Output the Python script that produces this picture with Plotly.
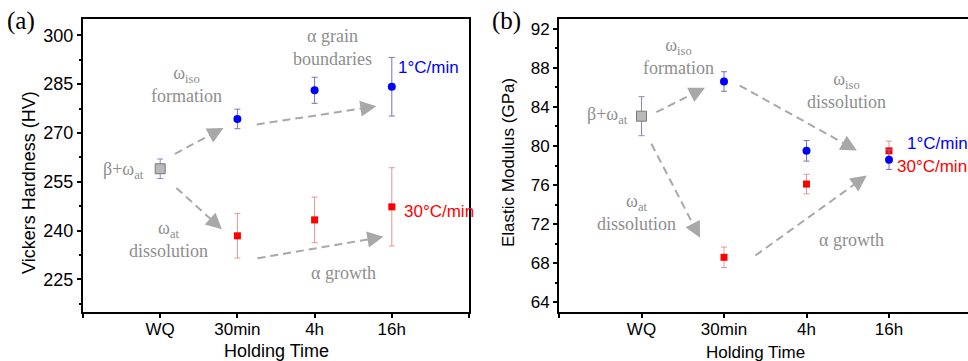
import plotly.graph_objects as go

# ---------------- data ----------------
categories = ["WQ", "30min", "4h", "16h"]
cat_pos = [1, 2, 3, 4]

hv_wq = [259.0]
hv_wq_err = [3.0]
hv_slow = [274.3, 283.1, 284.2]      # 1°C/min
hv_slow_err = [3.0, 4.0, 9.0]
hv_fast = [238.4, 243.3, 247.3]      # 30°C/min
hv_fast_err = [6.8, 7.0, 12.0]

em_wq = [83.05]
em_wq_err = [2.0]
em_slow = [86.6, 79.5, 78.6]
em_slow_err = [1.0, 1.05, 1.0]
em_fast = [68.6, 76.1, 79.5]
em_fast_err = [1.05, 1.0, 1.0]

# arrows (x0, y0, x1, y1) in data coordinates
arrows_a = [(1.19, 263.6, 1.82, 271.5), (1.21, 253.1, 1.80, 240.4),
            (2.25, 272.6, 3.80, 278.2), (2.26, 231.5, 3.89, 238.1)]
arrows_b = [(1.18, 83.46, 1.77, 85.96), (1.12, 80.22, 1.71, 70.59),
            (2.19, 86.19, 3.61, 79.53), (2.38, 68.78, 3.73, 76.97)]

# gray labels (text, x, y)
labels_a = [("ω<sub>iso</sub><br>formation", 1.34, 285.0),
            ("β+ω<sub>at</sub>", 0.52, 258.6),
            ("ω<sub>at</sub><br>dissolution", 1.11, 237.4),
            ("α grain<br>boundaries", 3.23, 296.3),
            ("α growth", 3.37, 226.9)]
labels_b = [("ω<sub>iso</sub><br>formation", 1.45, 89.2),
            ("β+ω<sub>at</sub>", 0.59, 83.1),
            ("ω<sub>at</sub><br>dissolution", 0.94, 73.2),
            ("ω<sub>iso</sub><br>dissolution", 3.49, 85.7),
            ("α growth", 3.55, 70.4)]

BLUE = "#0000ff"
RED = "#ff0000"
GRAYTXT = "#8e8e8e"
ARROW = "#a8a8a8"
SERIF = "Liberation Serif, Times New Roman, serif"
SANS = "Liberation Sans, Arial, sans-serif"

W, H = 968, 361
TOP, BOT = 19, 312


def px(x):
    return x / W


def py(y):
    return (BOT - y) / (BOT - TOP)


fig = go.Figure()


def add_points(xa, ya, wq, wq_err, slow, slow_err, fast, fast_err):
    fig.add_trace(go.Scatter(
        x=[cat_pos[0]], y=wq, mode="markers", xaxis=xa, yaxis=ya,
        marker=dict(symbol="square", size=10, color="#b8b8b8",
                    line=dict(color="#7a7a7a", width=1)),
        error_y=dict(type="data", array=wq_err, color="#8a8ac0",
                     thickness=1, width=3),
        showlegend=False))
    fig.add_trace(go.Scatter(
        x=cat_pos[1:], y=fast, mode="markers", xaxis=xa, yaxis=ya,
        marker=dict(symbol="square", size=7, color=RED),
        error_y=dict(type="data", array=fast_err, color="#e39595",
                     thickness=1, width=3),
        showlegend=False))
    fig.add_trace(go.Scatter(
        x=cat_pos[1:], y=slow, mode="markers", xaxis=xa, yaxis=ya,
        marker=dict(symbol="circle", size=8, color=BLUE),
        error_y=dict(type="data", array=slow_err, color="#7474b8",
                     thickness=1, width=3),
        showlegend=False))


add_points("x", "y", hv_wq, hv_wq_err, hv_slow, hv_slow_err, hv_fast, hv_fast_err)
add_points("x2", "y2", em_wq, em_wq_err, em_slow, em_slow_err, em_fast, em_fast_err)

annotations = []


def add_arrows(arrows, xa, ya):
    for (x0, y0, x1, y1) in arrows:
        fig.add_trace(go.Scatter(
            x=[x0, x0 + 0.9 * (x1 - x0)], y=[y0, y0 + 0.9 * (y1 - y0)],
            mode="lines", xaxis=xa, yaxis=ya,
            line=dict(color=ARROW, width=2, dash="8px,5px"),
            showlegend=False, hoverinfo="skip"))
        annotations.append(dict(
            x=x1, y=y1, xref=xa, yref=ya,
            ax=x1 - 0.12 * (x1 - x0), ay=y1 - 0.12 * (y1 - y0),
            axref=xa, ayref=ya, text="", showarrow=True,
            arrowhead=2, arrowsize=1.6, arrowwidth=2, arrowcolor=ARROW))


add_arrows(arrows_a, "x", "y")
add_arrows(arrows_b, "x2", "y2")

for (t, x, y) in labels_a:
    annotations.append(dict(x=x, y=y, xref="x", yref="y", text=t,
                            showarrow=False, xanchor="center", yanchor="middle",
                            font=dict(family=SERIF, size=18, color=GRAYTXT)))
for (t, x, y) in labels_b:
    annotations.append(dict(x=x, y=y, xref="x2", yref="y2", text=t,
                            showarrow=False, xanchor="center", yanchor="middle",
                            font=dict(family=SERIF, size=18, color=GRAYTXT)))

# series labels
annotations += [
    dict(x=4.06, y=290.2, xref="x", yref="y", text="1°C/min", xanchor="left",
         yanchor="middle", showarrow=False, font=dict(family=SANS, size=17, color=BLUE)),
    dict(x=4.13, y=245.8, xref="x", yref="y", text="30°C/min", xanchor="left",
         yanchor="middle", showarrow=False, font=dict(family=SANS, size=17, color=RED)),
    dict(x=4.19, y=80.3, xref="x2", yref="y2", text="1°C/min", xanchor="left",
         yanchor="middle", showarrow=False, font=dict(family=SANS, size=17, color=BLUE)),
    dict(x=4.07, y=77.9, xref="x2", yref="y2", text="30°C/min", xanchor="left",
         yanchor="middle", showarrow=False, font=dict(family=SANS, size=17, color=RED)),
]

# panel letters and axis titles
ctr = dict(xref="paper", yref="paper", showarrow=False,
           xanchor="center", yanchor="middle")
annotations += [
    dict(x=px(21), y=py(21), text="(a)",
         font=dict(family=SERIF, size=25, color="black"), **ctr),
    dict(x=px(506), y=py(21), text="(b)",
         font=dict(family=SERIF, size=25, color="black"), **ctr),
    dict(x=px(29), y=py(183), text="Vickers Hardness (HV)", textangle=-90,
         font=dict(family=SANS, size=18, color="black"), **ctr),
    dict(x=px(508), y=py(163), text="Elastic Modulus (GPa)", textangle=-90,
         font=dict(family=SANS, size=17, color="black"), **ctr),
    dict(x=px(276), y=py(351), text="Holding Time",
         font=dict(family=SANS, size=18, color="black"), **ctr),
    dict(x=px(755), y=py(352), text="Holding Time",
         font=dict(family=SANS, size=17, color="black"), **ctr),
]

tickvals = [0] + cat_pos + [5]
ticktext = [""] + categories + [""]

axis_common = dict(showgrid=False, zeroline=False, linecolor="black",
                   linewidth=2, ticks="outside", tickcolor="black",
                   tickwidth=1.5, ticklen=4)

fig.update_layout(
    width=W, height=H,
    margin=dict(l=0, r=0, t=TOP, b=H - BOT),
    paper_bgcolor="white", plot_bgcolor="white",
    showlegend=False,
    annotations=annotations,
    xaxis=dict(domain=[px(83), px(469)], range=[0, 5], tickvals=tickvals,
               ticktext=ticktext, mirror=True, ticklabelstandoff=-3,
               tickfont=dict(family=SANS, size=17, color="black"),
               **axis_common),
    yaxis=dict(domain=[0, 1], range=[215, 305], tickvals=[225, 240, 255, 270, 285, 300],
               mirror=True,
               minor=dict(tickvals=[217.5, 232.5, 247.5, 262.5, 277.5, 292.5],
                          ticks="outside", ticklen=2.5, tickwidth=1.5, tickcolor="black"),
               tickfont=dict(family=SANS, size=18, color="black"),
               **axis_common),
    xaxis2=dict(domain=[px(559), 1.0], range=[0, 409 / 82.5], tickvals=tickvals,
                ticktext=ticktext, mirror=True, anchor="y2", ticklabelstandoff=-3,
                tickfont=dict(family=SANS, size=17, color="black"),
                **axis_common),
    yaxis2=dict(domain=[0, 1], range=[63, 93], anchor="x2",
                tickvals=[64, 68, 72, 76, 80, 84, 88, 92], mirror=False,
                minor=dict(tickvals=[66, 70, 74, 78, 82, 86, 90],
                           ticks="outside", ticklen=2.5, tickwidth=1.5, tickcolor="black"),
                tickfont=dict(family=SANS, size=17, color="black"),
                **axis_common),
)

fig.write_html("out.html")
